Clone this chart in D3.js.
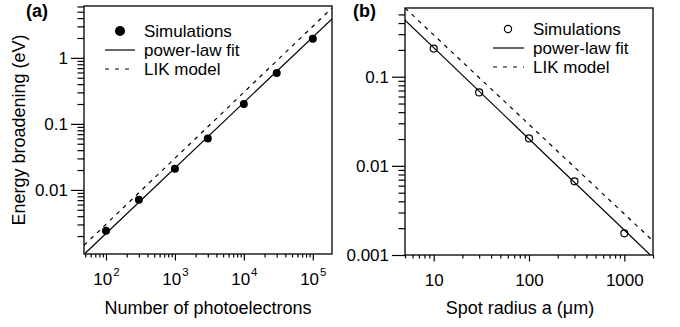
<!DOCTYPE html>
<html>
<head>
<meta charset="utf-8">
<script src="https://cdn.jsdelivr.net/npm/d3@7"></script>
<style>
  html, body { margin: 0; padding: 0; background: #fff; }
  svg { display: block; }
  svg text { font-family: "Liberation Sans", Arial, Helvetica, sans-serif; }
</style>
</head>
<body>
<svg id="chart" width="680" height="327"></svg>
<script>
// ---- Panel (a): broadening vs number of photoelectrons ----
const aN        = [100, 300, 1000, 3000, 10000, 30000, 100000];
const aE        = [0.0024, 0.0071, 0.021, 0.06, 0.2, 0.59, 1.95];
const aErrLow   = [0.0021, null, null, null, null, null, null];
const aErrHigh  = [0.0028, null, null, null, null, null, null];
const aFitX     = [50, 190000];
const aFitY     = [0.0011, 3.9];
const aLikX     = [48, 190000];
const aLikY     = [0.00145, 5.7];
const aXTicks   = [100, 1000, 10000, 100000];
const aXTickExp = ["2", "3", "4", "5"];
const aYTicks   = [0.01, 0.1, 1];
const aYLabels  = ["0.01", "0.1", "1"];

// ---- Panel (b): broadening vs spot radius ----
const bA        = [10, 30, 100, 300, 1000];
const bE        = [0.207, 0.0667, 0.0203, 0.0067, 0.00175];
const bFitX     = [5, 1875];
const bFitY     = [0.43, 0.001];
const bLikX     = [5, 2000];
const bLikY     = [0.59, 0.00144];
const bXTicks   = [10, 100, 1000];
const bXLabels  = ["10", "100", "1000"];
const bYTicks   = [0.001, 0.01, 0.1];
const bYLabels  = ["0.001", "0.01", "0.1"];

const legendItems = ["Simulations", "power-law fit", "LIK model"];

const svg = d3.select("#chart");
const FONT = 17;
const TITLE_FONT = 18;

function minorTicks(lo, hi) {
  const out = [];
  const d0 = Math.floor(Math.log10(lo)), d1 = Math.ceil(Math.log10(hi));
  for (let d = d0; d <= d1; d++) {
    for (let m = 2; m <= 9; m++) {
      const v = m * Math.pow(10, d);
      if (v >= lo && v <= hi) out.push(v);
    }
  }
  return out;
}

function panel(cfg) {
  const g = svg.append("g");
  const x = d3.scaleLog().domain(cfg.xDomain).range([cfg.left, cfg.right]);
  const y = d3.scaleLog().domain(cfg.yDomain).range([cfg.bottom, cfg.top]);

  // minor ticks
  const xMinor = d3.axisBottom(x).tickValues(minorTicks(...cfg.xDomain)).tickSize(3.5).tickSizeOuter(0).tickFormat(() => "");
  const yMinor = d3.axisLeft(y).tickValues(minorTicks(...cfg.yDomain)).tickSize(6.5).tickSizeOuter(0).tickFormat(() => "");
  g.append("g").attr("transform", `translate(0,${cfg.bottom})`).call(xMinor);
  g.append("g").attr("transform", `translate(${cfg.left},0)`).call(yMinor);

  // major ticks
  const xMajor = d3.axisBottom(x).tickValues(cfg.xTicks).tickSize(6.5).tickSizeOuter(0).tickFormat(() => "");
  const yMajor = d3.axisLeft(y).tickValues(cfg.yTicks).tickSize(13).tickSizeOuter(0).tickPadding(3)
    .tickFormat((d, i) => cfg.yLabels[i]);
  const gx = g.append("g").attr("transform", `translate(0,${cfg.bottom})`).call(xMajor);
  const gy = g.append("g").attr("transform", `translate(${cfg.left},0)`).call(yMajor);

  g.selectAll(".domain").remove();
  g.selectAll("g").attr("font-family", null).attr("font-size", null);
  g.selectAll(".tick line").attr("stroke", "#000").attr("stroke-width", 1.2);
  gy.selectAll("text").attr("font-size", FONT).attr("fill", "#000");

  // x tick labels, with optional superscript exponent
  gx.selectAll(".tick text").each(function (d, i) {
    const t = d3.select(this).attr("font-size", FONT).attr("fill", "#000")
      .attr("dy", null).attr("y", 31);
    if (cfg.xExp) {
      t.append("tspan").text("10");
      t.append("tspan").attr("font-size", 11.5).attr("dy", -9).attr("dx", 1).text(cfg.xExp[i]);
    } else {
      t.text(cfg.xLabels[i]);
    }
  });

  // frame
  g.append("rect")
    .attr("x", cfg.left).attr("y", cfg.top)
    .attr("width", cfg.right - cfg.left).attr("height", cfg.bottom - cfg.top)
    .attr("fill", "none").attr("stroke", "#000").attr("stroke-width", 1.3);

  const clipId = "clip" + cfg.name;
  svg.append("clipPath").attr("id", clipId).append("rect")
    .attr("x", cfg.left).attr("y", cfg.top)
    .attr("width", cfg.right - cfg.left).attr("height", cfg.bottom - cfg.top);
  const plot = g.append("g").attr("clip-path", `url(#${clipId})`);

  const line = d3.line().x(d => x(d[0])).y(d => y(d[1]));
  plot.append("path").datum(d3.zip(cfg.likX, cfg.likY)).attr("d", line)
    .attr("fill", "none").attr("stroke", "#000").attr("stroke-width", 1.2).attr("stroke-dasharray", "4,5");
  plot.append("path").datum(d3.zip(cfg.fitX, cfg.fitY)).attr("d", line)
    .attr("fill", "none").attr("stroke", "#000").attr("stroke-width", 1.2);

  // error bars
  if (cfg.errLow) {
    cfg.errLow.forEach((lo, i) => {
      if (lo == null) return;
      plot.append("line")
        .attr("x1", x(cfg.px[i])).attr("x2", x(cfg.px[i]))
        .attr("y1", y(lo)).attr("y2", y(cfg.errHigh[i]))
        .attr("stroke", "#000").attr("stroke-width", 1.2);
    });
  }

  // markers
  plot.selectAll("circle.pt").data(d3.zip(cfg.px, cfg.py)).join("circle")
    .attr("class", "pt")
    .attr("cx", d => x(d[0])).attr("cy", d => y(d[1]))
    .attr("r", cfg.filled ? 4 : 3.5)
    .attr("fill", cfg.filled ? "#000" : "none")
    .attr("stroke", "#000").attr("stroke-width", cfg.filled ? 0 : 1.2);

  // legend
  const L = cfg.legend;
  const rows = [L.y0, L.y0 + 19, L.y0 + 38];
  if (cfg.filled) {
    g.append("circle").attr("cx", L.mark).attr("cy", rows[0]).attr("r", 5).attr("fill", "#000");
  } else {
    g.append("circle").attr("cx", L.mark).attr("cy", rows[0]).attr("r", 3.6)
      .attr("fill", "none").attr("stroke", "#000").attr("stroke-width", 1.2);
  }
  g.append("line").attr("x1", L.x1).attr("x2", L.x2).attr("y1", rows[1]).attr("y2", rows[1])
    .attr("stroke", "#000").attr("stroke-width", 1.2);
  g.append("line").attr("x1", L.x1).attr("x2", L.x2).attr("y1", rows[2]).attr("y2", rows[2])
    .attr("stroke", "#000").attr("stroke-width", 1.2).attr("stroke-dasharray", "4,6");
  legendItems.forEach((s, i) => {
    g.append("text").attr("x", L.text).attr("y", rows[i]).attr("dy", "0.35em")
      .attr("font-size", FONT).attr("fill", "#000").text(s);
  });

  // axis title and panel tag
  g.append("text").attr("x", (cfg.left + cfg.right) / 2 + (cfg.xTitleShift || 0)).attr("y", 314)
    .attr("text-anchor", "middle").attr("font-size", TITLE_FONT).attr("fill", "#000")
    .text(cfg.xTitle);
  g.append("text").attr("x", cfg.tagX).attr("y", 17)
    .attr("font-size", 18).attr("font-weight", "bold").attr("fill", "#000").text(cfg.tag);
  return g;
}

panel({
  name: "a", left: 84, right: 332, top: 6, bottom: 254,
  xDomain: [48, 190000], yDomain: [0.00107, 6.1],
  xTicks: aXTicks, xExp: aXTickExp, yTicks: aYTicks, yLabels: aYLabels,
  px: aN, py: aE, errLow: aErrLow, errHigh: aErrHigh,
  fitX: aFitX, fitY: aFitY, likX: aLikX, likY: aLikY,
  filled: true,
  legend: { y0: 31, mark: 120, x1: 105, x2: 135, text: 144 },
  xTitle: "Number of photoelectrons", tag: "(a)", tagX: 26
});

panel({
  name: "b", left: 405, right: 653, top: 8, bottom: 255,
  xDomain: [5, 2000], yDomain: [0.001, 0.59],
  xTicks: bXTicks, xLabels: bXLabels, yTicks: bYTicks, yLabels: bYLabels,
  px: bA, py: bE,
  fitX: bFitX, fitY: bFitY, likX: bLikX, likY: bLikY,
  filled: false,
  legend: { y0: 29, mark: 508, x1: 493, x2: 524, text: 533 },
  xTitle: "Spot radius a (μm)", xTitleShift: -9, tag: "(b)", tagX: 353
});

// y-axis title for panel (a)
svg.append("text")
  .attr("transform", "translate(25,130) rotate(-90)")
  .attr("text-anchor", "middle").attr("font-size", TITLE_FONT).attr("fill", "#000")
  .text("Energy broadening (eV)");
</script>
</body>
</html>
